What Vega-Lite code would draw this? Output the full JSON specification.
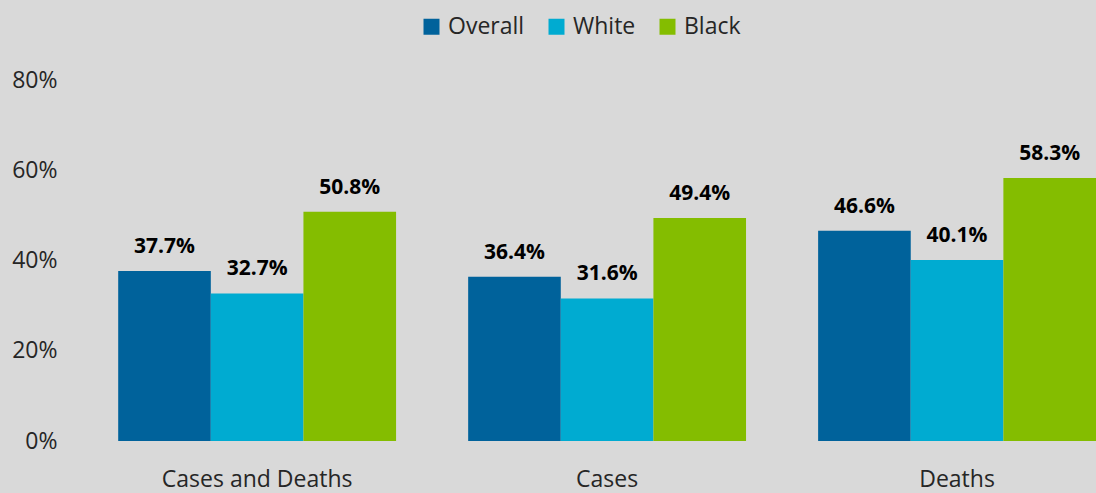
{
  "$schema": "https://vega.github.io/schema/vega-lite/v6.json",
  "autosize": {"type": "none"},
  "padding": {"left": 65, "top": 80, "right": 0, "bottom": 52},
  "width": 1031,
  "height": 361,
  "background": "#d9d9d9",
  "config": {
    "view": {"stroke": null},
    "font": "Open Sans"
  },
  "data": {
    "values": [
      {"measure": "Cases and Deaths", "group": "Overall", "value": 0.377},
      {"measure": "Cases and Deaths", "group": "White", "value": 0.327},
      {"measure": "Cases and Deaths", "group": "Black", "value": 0.508},
      {"measure": "Cases", "group": "Overall", "value": 0.364},
      {"measure": "Cases", "group": "White", "value": 0.316},
      {"measure": "Cases", "group": "Black", "value": 0.494},
      {"measure": "Deaths", "group": "Overall", "value": 0.466},
      {"measure": "Deaths", "group": "White", "value": 0.401},
      {"measure": "Deaths", "group": "Black", "value": 0.583}
    ]
  },
  "encoding": {
    "x": {
      "field": "measure",
      "type": "nominal",
      "sort": ["Cases and Deaths", "Cases", "Deaths"],
      "scale": {"paddingInner": 0.206, "paddingOuter": 0.076, "align": 1},
      "axis": {
        "title": null,
        "labelAngle": 0,
        "labelFontSize": 23,
        "labelColor": "#262626",
        "labelPadding": 27,
        "labelLimit": 0,
        "ticks": false,
        "domain": false
      }
    },
    "xOffset": {
      "field": "group",
      "type": "nominal",
      "sort": ["Overall", "White", "Black"],
      "scale": {"paddingInner": 0, "paddingOuter": 0}
    },
    "y": {
      "field": "value",
      "type": "quantitative",
      "scale": {"domain": [0, 0.8]},
      "axis": {
        "title": null,
        "format": ".0%",
        "values": [0, 0.2, 0.4, 0.6, 0.8],
        "labelFontSize": 23,
        "labelColor": "#262626",
        "labelPadding": 8,
        "ticks": false,
        "domain": false,
        "grid": false
      }
    }
  },
  "layer": [
    {
      "mark": {"type": "bar"},
      "encoding": {
        "color": {
          "field": "group",
          "type": "nominal",
          "sort": ["Overall", "White", "Black"],
          "scale": {"domain": ["Overall", "White", "Black"], "range": ["#00629b", "#00abd1", "#84bd00"]},
          "legend": {
            "title": null,
            "orient": "none",
            "direction": "horizontal",
            "legendX": 355,
            "legendY": -65,
            "symbolType": "square",
            "symbolSize": 256,
            "symbolStrokeWidth": 0,
            "labelFontSize": 23,
            "labelColor": "#262626",
            "labelOffset": 5,
            "columnPadding": 20
          }
        }
      }
    },
    {
      "mark": {"type": "text", "baseline": "alphabetic", "dy": -18, "fontSize": 21, "fontWeight": "bold", "color": "#000000"},
      "encoding": {
        "text": {"field": "value", "type": "quantitative", "format": ".1%"}
      }
    }
  ]
}
